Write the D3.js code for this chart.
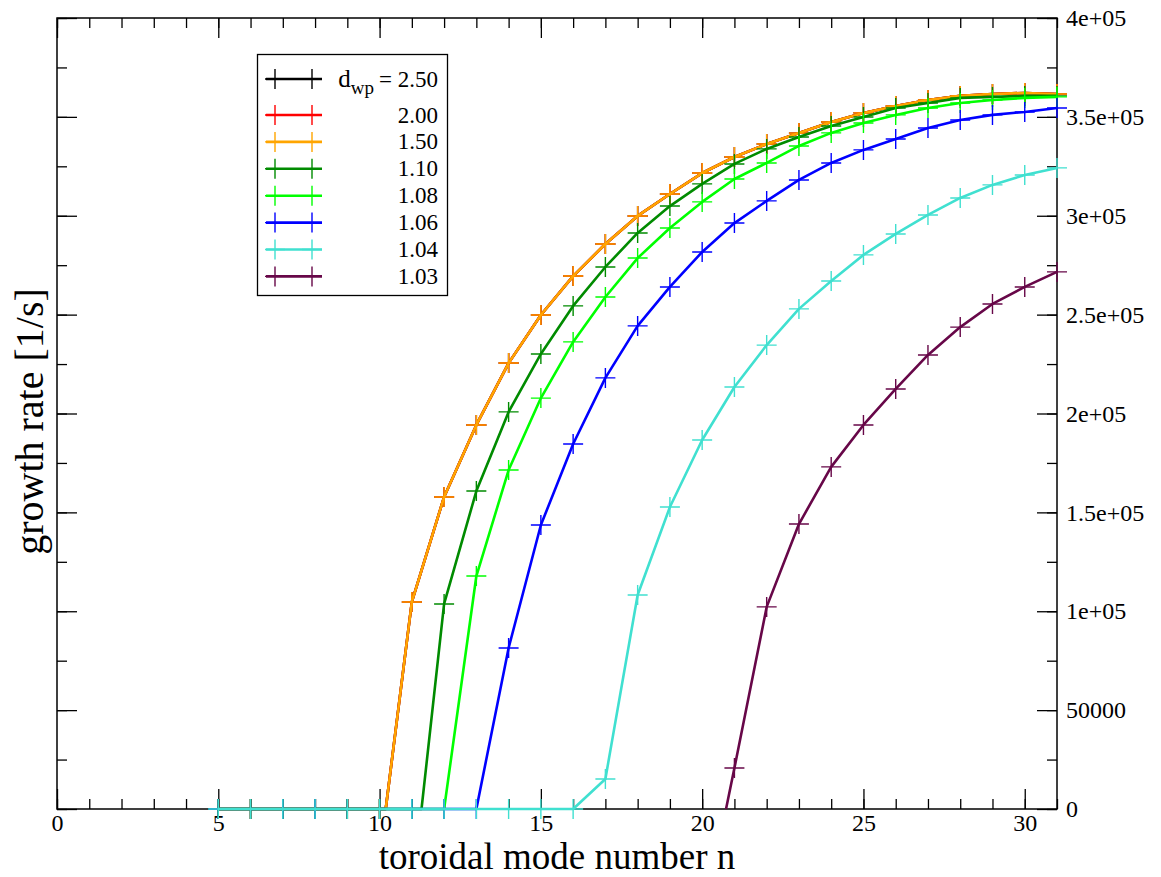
<!DOCTYPE html>
<html>
<head>
<meta charset="utf-8">
<script src="https://cdn.jsdelivr.net/npm/d3@7"></script>
<style>
  body { margin: 0; background: #fff; }
  text { font-family: "Liberation Serif", "Times New Roman", serif; fill: #000; }
</style>
</head>
<body>
<div class="chart"></div>
<script>
var width = 1161,
    height = 877,
    box = {left: 57, right: 1057, top: 18, bottom: 809};

// toroidal mode numbers where the code was run
var modeN = [5, 6, 7, 8, 9, 10, 11, 12, 13, 14, 15, 16, 17, 18, 19, 20, 21, 22, 23, 24, 25, 26, 27, 28, 29, 30, 31];

// growth rate [1/s] per d_wp
var rate250 = [0, 0, 0, 0, 0, 0, 104700, 157800, 194200, 225500, 249800, 269500, 285700, 299900, 311000, 321600, 329700, 336300, 341800, 347400, 352000, 355500, 358500, 360600, 361600, 362100, 361600];
var rate200 = [0, 0, 0, 0, 0, 0, 104700, 157800, 194200, 225500, 249800, 269500, 285700, 299900, 311000, 321600, 329700, 336300, 341800, 347400, 352000, 355500, 358500, 360600, 361600, 362100, 361600];
var rate150 = [0, 0, 0, 0, 0, 0, 104700, 157800, 194200, 225500, 249800, 269500, 285700, 299900, 311000, 321600, 329700, 336300, 341800, 347400, 352000, 355500, 358500, 360600, 361600, 362100, 361600];
var rate110 = [0, 0, 0, 0, 0, 0, 0, 103700, 160800, 200800, 230100, 254400, 274100, 291300, 304900, 316100, 326200, 333800, 339800, 345400, 349900, 354500, 357000, 359600, 360100, 360600, 360600];
var rate108 = [0, 0, 0, 0, 0, 0, 0, 0, 117800, 171400, 207800, 236200, 258900, 278600, 293800, 307000, 318600, 326700, 335300, 341900, 346900, 351000, 354500, 357000, 358500, 359600, 360100];
var rate106 = [0, 0, 0, 0, 0, 0, 0, 0, 0, 81400, 143600, 184600, 218000, 244300, 264000, 281700, 296300, 307500, 318100, 326700, 333300, 338800, 344400, 348400, 351000, 352500, 354500];
var rate104 = [0, 0, 0, 0, 0, 0, 0, 0, 0, 0, 0, 0, 15200, 108200, 152700, 186600, 213400, 234600, 252900, 267000, 280200, 290800, 300400, 309000, 315600, 320600, 324200];
var rate103 = [null, null, null, null, null, null, null, null, null, null, null, null, null, null, null, null, 20700, 102200, 144100, 173000, 194200, 212400, 229600, 243700, 255400, 264000, 271600];

// n where each curve leaves zero
var onsetN = [10.19, 10.19, 10.19, 11.3, 12.0, 13.0, 16.0, 20.74];

var dwpLabels = ["2.50", "2.00", "1.50", "1.10", "1.08", "1.06", "1.04", "1.03"];
var colors = ["#000000", "#ff0000", "#ffa500", "#008b00", "#00ff00", "#0000ff", "#40e0d0", "#670748"];
var rates = [rate250, rate200, rate150, rate110, rate108, rate106, rate104, rate103];

var xMajor = [0, 5, 10, 15, 20, 25, 30];
var xMinor = d3.range(0, 32, 1);
var yMajor = [0, 50000, 100000, 150000, 200000, 250000, 300000, 350000, 400000];
var yMinor = d3.range(0, 400001, 25000);

var x = d3.scaleLinear().domain([0, 31]).range([box.left, box.right]);
var y = d3.scaleLinear().domain([0, 400000]).range([box.bottom, box.top]);

var svg = d3.select(".chart").append("svg")
    .attr("width", width)
    .attr("height", height);

svg.append("rect").attr("width", width).attr("height", height).attr("fill", "#fff");

function yFmt(v) {
    if (v < 100000) return String(v);
    return (v / 100000) + "e+05";
}

function addAxis(axis, tx, ty) {
    var g = svg.append("g")
        .attr("transform", "translate(" + tx + "," + ty + ")")
        .call(axis)
        .attr("font-size", 24)
        .attr("font-family", "Liberation Serif");
    g.select(".domain").remove();
    g.selectAll("line").attr("stroke", "#000").attr("stroke-width", 1.3);
    g.selectAll("text").attr("fill", "#000");
    return g;
}

// minor ticks
addAxis(d3.axisBottom(x).tickValues(xMinor).tickSizeInner(-10).tickSizeOuter(0).tickFormat(""), 0, box.bottom);
addAxis(d3.axisTop(x).tickValues(xMinor).tickSizeInner(-10).tickSizeOuter(0).tickFormat(""), 0, box.top);
addAxis(d3.axisLeft(y).tickValues(yMinor).tickSizeInner(-10).tickSizeOuter(0).tickFormat(""), box.left, 0);
addAxis(d3.axisRight(y).tickValues(yMinor).tickSizeInner(-10).tickSizeOuter(0).tickFormat(""), box.right, 0);

// major ticks
addAxis(d3.axisBottom(x).tickValues(xMajor).tickSizeInner(-20).tickSizeOuter(0).tickPadding(5), 0, box.bottom);
addAxis(d3.axisTop(x).tickValues(xMajor).tickSizeInner(-20).tickSizeOuter(0).tickFormat(""), 0, box.top);
addAxis(d3.axisLeft(y).tickValues(yMajor).tickSizeInner(-20).tickSizeOuter(0).tickFormat(""), box.left, 0);
addAxis(d3.axisRight(y).tickValues(yMajor).tickSizeInner(-20).tickSizeOuter(0).tickPadding(9).tickFormat(yFmt), box.right, 0)
    .selectAll("text").attr("text-anchor", "start");

// frame
svg.append("rect")
    .attr("x", box.left)
    .attr("y", box.top)
    .attr("width", box.right - box.left)
    .attr("height", box.bottom - box.top)
    .attr("fill", "none")
    .attr("stroke", "#000")
    .attr("stroke-width", 1.5);

// series
var line = d3.line()
    .x(function(d) { return x(d.n); })
    .y(function(d) { return y(d.g); });

var series = rates.map(function(r, i) {
    var pts = [];
    var marks = [];
    modeN.forEach(function(n, j) {
        if (r[j] === null) return;
        marks.push({n: n, g: r[j]});
        if (r[j] === 0 && n > onsetN[i]) return;
        pts.push({n: n, g: r[j]});
    });
    pts.push({n: onsetN[i], g: 0});
    pts.sort(function(a, b) { return a.n - b.n; });
    return {color: colors[i], pts: pts, marks: marks};
});

var plot = svg.append("g");

var sg = plot.selectAll("g.series")
    .data(series)
    .enter().append("g")
    .attr("class", "series");

sg.append("path")
    .attr("fill", "none")
    .attr("stroke", function(d) { return d.color; })
    .attr("stroke-width", 2.6)
    .attr("stroke-linejoin", "round")
    .attr("d", function(d) { return line(d.pts); });

sg.each(function(s) {
    d3.select(this).selectAll("path.mark")
        .data(s.marks)
        .enter().append("path")
        .attr("class", "mark")
        .attr("fill", "none")
        .attr("stroke", s.color)
        .attr("stroke-width", 1.4)
        .attr("d", function(d) {
            var cx = x(d.n), cy = y(d.g), r = 10;
            return "M" + (cx - r) + "," + cy + "H" + (cx + r) + "M" + cx + "," + (cy - r) + "V" + (cy + r);
        });
});

// axis titles
svg.append("text")
    .attr("x", (box.left + box.right) / 2)
    .attr("y", 869)
    .attr("text-anchor", "middle")
    .attr("font-size", 37)
    .text("toroidal mode number n");

svg.append("text")
    .attr("transform", "translate(43," + ((box.top + box.bottom) / 2 + 8) + ") rotate(-90)")
    .attr("text-anchor", "middle")
    .attr("font-size", 40)
    .text("growth rate [1/s]");

// Legend
var legend = svg.append("g");

legend.append("rect")
    .attr("x", 257.5)
    .attr("y", 54.5)
    .attr("width", 190)
    .attr("height", 241)
    .attr("fill", "#fff")
    .attr("stroke", "#000")
    .attr("stroke-width", 1.3);

var rows = legend.selectAll("g.row")
    .data(dwpLabels)
    .enter().append("g")
    .attr("class", "row")
    .attr("transform", function(d, i) {
        var ry = i === 0 ? 79 : 115 + (i - 1) * 26.9;
        return "translate(0," + ry + ")";
    });

rows.append("line")
    .attr("x1", 266).attr("x2", 322)
    .attr("stroke", function(d, i) { return colors[i]; })
    .attr("stroke-width", 2.6);

[275, 312].forEach(function(mx) {
    rows.append("path")
        .attr("fill", "none")
        .attr("stroke", function(d, i) { return colors[i]; })
        .attr("stroke-width", 1.4)
        .attr("d", "M" + (mx - 10) + ",0H" + (mx + 10) + "M" + mx + ",-10V10");
});

rows.append("text")
    .attr("x", 438)
    .attr("dy", "0.33em")
    .attr("text-anchor", "end")
    .attr("font-size", 23)
    .each(function(d, i) {
        var t = d3.select(this);
        if (i === 0) {
            t.append("tspan").attr("font-size", 25).text("d");
            t.append("tspan").attr("dy", 7).attr("font-size", 19).text("wp");
            t.append("tspan").attr("dy", -7).attr("dx", 5).text("= " + d);
        } else {
            t.text(d);
        }
    });
</script>
</body>
</html>
